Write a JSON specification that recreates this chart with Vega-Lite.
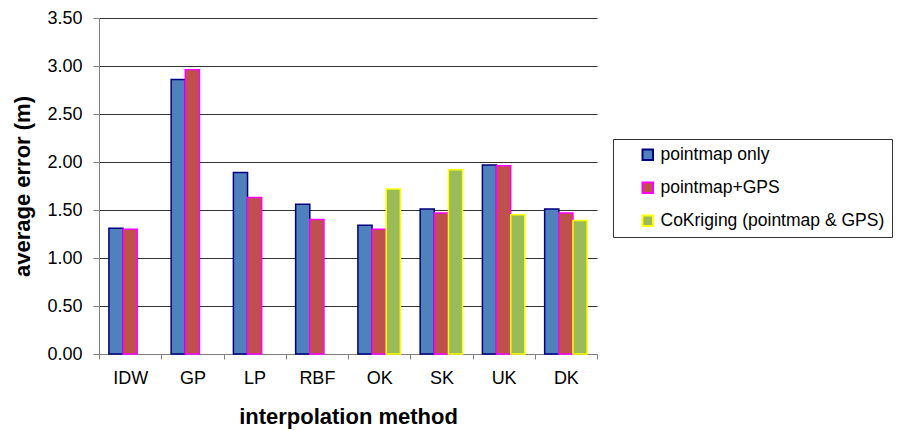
{
  "$schema": "https://vega.github.io/schema/vega-lite/v6.json",
  "autosize": "none",
  "width": 498,
  "height": 336,
  "padding": {"left": 99, "top": 18, "right": 301, "bottom": 76},
  "background": "white",
  "config": {
    "font": "Liberation Sans",
    "view": {"stroke": null}
  },
  "data": {
    "values": [
      {"method": "IDW", "series": "pointmap only", "error": 1.31},
      {"method": "IDW", "series": "pointmap+GPS", "error": 1.30},
      {"method": "GP", "series": "pointmap only", "error": 2.86},
      {"method": "GP", "series": "pointmap+GPS", "error": 2.96},
      {"method": "LP", "series": "pointmap only", "error": 1.89},
      {"method": "LP", "series": "pointmap+GPS", "error": 1.63},
      {"method": "RBF", "series": "pointmap only", "error": 1.56},
      {"method": "RBF", "series": "pointmap+GPS", "error": 1.40},
      {"method": "OK", "series": "pointmap only", "error": 1.34},
      {"method": "OK", "series": "pointmap+GPS", "error": 1.30},
      {"method": "OK", "series": "CoKriging (pointmap & GPS)", "error": 1.72},
      {"method": "SK", "series": "pointmap only", "error": 1.51},
      {"method": "SK", "series": "pointmap+GPS", "error": 1.47},
      {"method": "SK", "series": "CoKriging (pointmap & GPS)", "error": 1.92},
      {"method": "UK", "series": "pointmap only", "error": 1.97},
      {"method": "UK", "series": "pointmap+GPS", "error": 1.96},
      {"method": "UK", "series": "CoKriging (pointmap & GPS)", "error": 1.45},
      {"method": "DK", "series": "pointmap only", "error": 1.51},
      {"method": "DK", "series": "pointmap+GPS", "error": 1.47},
      {"method": "DK", "series": "CoKriging (pointmap & GPS)", "error": 1.39}
    ]
  },
  "mark": {"type": "bar", "strokeWidth": 1.5},
  "encoding": {
    "x": {
      "field": "method",
      "type": "nominal",
      "sort": ["IDW", "GP", "LP", "RBF", "OK", "SK", "UK", "DK"],
      "scale": {"paddingInner": 0, "paddingOuter": 0},
      "title": "interpolation method",
      "axis": {
        "labelAngle": 0,
        "tickBand": "extent",
        "tickSize": 5,
        "tickColor": "#808080",
        "domainColor": "#808080",
        "labelFontSize": 18,
        "labelColor": "#000",
        "labelPadding": 10,
        "titleFontSize": 22,
        "titleFontWeight": "bold",
        "titleColor": "#000",
        "titlePadding": 19,
        "grid": false
      }
    },
    "xOffset": {
      "field": "series",
      "type": "nominal",
      "sort": ["pointmap only", "pointmap+GPS", "CoKriging (pointmap & GPS)"],
      "scale": {"paddingInner": 0, "paddingOuter": 0.7}
    },
    "y": {
      "field": "error",
      "type": "quantitative",
      "scale": {"domain": [0, 3.5], "nice": false},
      "title": "average error (m)",
      "axis": {
        "values": [0, 0.5, 1, 1.5, 2, 2.5, 3, 3.5],
        "format": ".2f",
        "tickSize": 6,
        "tickColor": "#808080",
        "domainColor": "#808080",
        "labelFontSize": 18,
        "labelColor": "#000",
        "labelPadding": 11,
        "titleFontSize": 22,
        "titleFontWeight": "bold",
        "titleColor": "#000",
        "titlePadding": 12,
        "grid": true,
        "gridColor": "#333",
        "gridWidth": 1
      }
    },
    "fill": {
      "field": "series",
      "type": "nominal",
      "scale": {
        "domain": ["pointmap only", "pointmap+GPS", "CoKriging (pointmap & GPS)"],
        "range": ["#4F81BD", "#C0504D", "#9BBB59"]
      },
      "legend": {
        "title": null,
        "orient": "none",
        "legendX": 514,
        "legendY": 121,
        "strokeColor": "#333",
        "padding": 7,
        "symbolOffset": 19,
        "symbolType": "square",
        "symbolSize": 110,
        "symbolStrokeWidth": 2,
        "labelFontSize": 17.5,
        "labelColor": "#000",
        "labelOffset": 4,
        "rowPadding": 14,
        "labelLimit": 400
      }
    },
    "stroke": {
      "field": "series",
      "type": "nominal",
      "scale": {
        "domain": ["pointmap only", "pointmap+GPS", "CoKriging (pointmap & GPS)"],
        "range": ["#000080", "#FF00FF", "#FFFF00"]
      },
      "legend": {
        "title": null,
        "orient": "none",
        "legendX": 514,
        "legendY": 121,
        "strokeColor": "#333",
        "padding": 7,
        "symbolOffset": 19,
        "symbolType": "square",
        "symbolSize": 110,
        "symbolStrokeWidth": 2,
        "labelFontSize": 17.5,
        "labelColor": "#000",
        "labelOffset": 4,
        "rowPadding": 14,
        "labelLimit": 400
      }
    }
  }
}
